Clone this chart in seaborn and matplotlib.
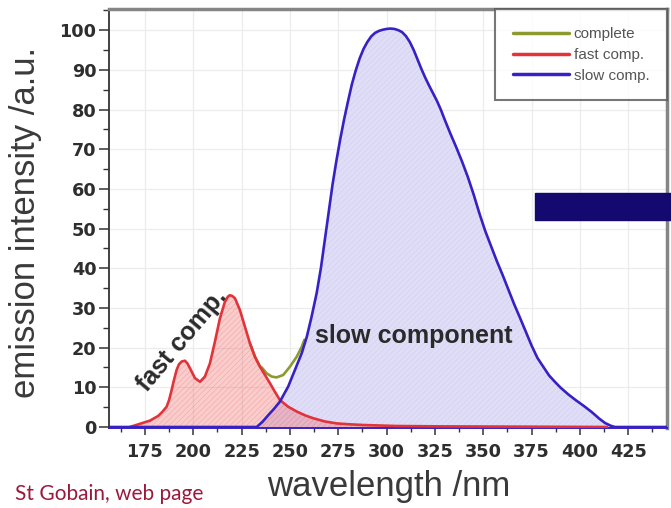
import numpy as np
import pandas as pd
import matplotlib
matplotlib.use("Agg")
import matplotlib.pyplot as plt
from matplotlib.patches import Rectangle
from matplotlib.ticker import MultipleLocator
import seaborn as sns

# --- data (wavelength in nm, intensity in a.u.) ---
fast_wl = [167.2, 172.4, 177.6, 181.9, 184.0, 186.2, 187.5, 188.8, 190.0, 191.4,
           192.6, 194.0, 195.7, 197.0, 198.3, 200.9, 203.5, 206.0, 208.6, 211.2,
           213.8, 216.4, 218.0, 219.0, 220.2, 221.6, 224.1, 226.7, 229.3, 231.9,
           234.5, 237.1, 239.7, 242.3, 244.8, 249.1, 253.5, 258.0, 262.1, 268.0,
           274.2, 280.0, 287.9, 305.2, 330.0, 360.0, 414.0]
fast_val = [0.0, 0.8, 1.6, 2.8, 3.8, 5.1, 6.8, 9.3, 11.8, 14.4,
            15.8, 16.5, 16.7, 16.0, 14.8, 12.3, 11.4, 12.7, 16.0, 21.5,
            27.4, 31.6, 32.9, 33.2, 33.0, 32.4, 29.5, 25.3, 21.1, 17.7,
            15.2, 13.1, 11.0, 8.8, 6.8, 5.1, 3.9, 2.9, 2.2, 1.4,
            0.9, 0.7, 0.5, 0.25, 0.15, 0.1, 0.0]

slow_wl = [156.0, 200.0, 232.8, 235.8, 238.8, 241.8, 244.8, 249.1, 252.6, 256.1,
           258.7, 261.2, 263.8, 266.0, 268.0, 270.0, 272.0, 274.0, 276.0, 278.0,
           280.0, 282.0, 284.0, 286.0, 288.0, 290.0, 292.0, 294.0, 296.0, 298.0,
           300.0, 302.0, 304.0, 306.0, 308.0, 310.0, 312.0, 314.0, 316.0, 318.0,
           320.0, 322.0, 324.0, 326.0, 328.0, 330.0, 333.0, 336.0, 339.0, 342.0,
           345.0, 348.0, 351.0, 354.0, 357.0, 360.0, 363.0, 366.0, 369.0, 372.0,
           375.0, 378.0, 381.0, 384.0, 387.0, 390.0, 394.0, 398.0, 402.0, 406.0,
           410.0, 413.0, 416.0, 418.1, 445.0]
slow_val = [0.0, 0.0, 0.0, 1.3, 3.0, 4.6, 6.4, 10.2, 14.4, 18.6,
            22.7, 27.8, 33.7, 40.0, 47.0, 54.0, 61.0, 67.0, 72.5, 77.5,
            82.0, 86.3, 89.8, 92.8, 95.2, 97.0, 98.4, 99.3, 99.8, 100.1,
            100.3, 100.4, 100.3, 100.0, 99.5, 98.5, 97.0, 95.0, 92.6, 90.2,
            88.0, 86.0, 84.1, 82.2, 80.0, 77.5, 73.9, 70.5, 66.9, 63.0,
            58.6, 53.8, 49.4, 45.6, 41.8, 38.3, 34.6, 30.9, 27.5, 24.0,
            20.5, 17.4, 15.2, 13.0, 11.4, 9.9, 8.2, 6.7, 5.3, 3.8,
            2.1, 1.0, 0.3, 0.0, 0.0]

complete_wl = [229.3, 231.9, 234.5, 235.4, 238.0, 240.6, 243.1, 246.5, 250.0, 253.5,
               256.1, 257.5]
complete_val = [21.1, 17.7, 15.2, 15.0, 13.5, 12.7, 12.5, 13.1, 15.2, 17.7,
                20.2, 22.0]

series_names = ["complete", "fast comp.", "slow comp."]
series_colors = ["#8c9a2e", "#e2333a", "#3622c4"]
x_ticks = [175, 200, 225, 250, 275, 300, 325, 350, 375, 400, 425]
y_ticks = [0, 10, 20, 30, 40, 50, 60, 70, 80, 90, 100]

df = pd.concat([
    pd.DataFrame({"wavelength": complete_wl, "intensity": complete_val, "series": series_names[0]}),
    pd.DataFrame({"wavelength": fast_wl, "intensity": fast_val, "series": series_names[1]}),
    pd.DataFrame({"wavelength": slow_wl, "intensity": slow_val, "series": series_names[2]}),
], ignore_index=True)

sns.set_style("white")
plt.rcParams["font.family"] = ["Liberation Sans", "DejaVu Sans"]
plt.rcParams["hatch.linewidth"] = 0.4

fig = plt.figure(figsize=(6.71, 5.08), dpi=100)
ax = fig.add_axes([0.1624, 0.1575, 0.8316, 0.8238])

ax.grid(True, color="#ececec", lw=0.9)
ax.set_axisbelow(True)

# shaded areas under the two components
ax.fill_between(slow_wl, slow_val, color="#e0def7", edgecolor="#cfcdf0",
                hatch="//////", lw=0, zorder=1)
ax.fill_between(fast_wl, fast_val, facecolor=(0.95, 0.35, 0.35, 0.3),
                edgecolor=(0.92, 0.5, 0.5, 0.5), hatch="//////", lw=0, zorder=1.5)

sns.lineplot(data=df, x="wavelength", y="intensity", hue="series",
             hue_order=series_names, palette=series_colors, estimator=None,
             linewidth=1.9, solid_joinstyle="round", ax=ax, zorder=3)

ax.set_xlim(156.4, 445.0)
ax.set_ylim(-0.25, 105.2)
ax.set_xticks(x_ticks)
ax.set_yticks(y_ticks)
ax.xaxis.set_minor_locator(MultipleLocator(12.5))
ax.yaxis.set_minor_locator(MultipleLocator(5))
ax.tick_params(axis="x", which="major", direction="out", length=5, width=1.1,
               color="#333333", pad=6, bottom=True)
ax.tick_params(axis="x", which="minor", direction="out", length=3, width=1.0,
               color="#333333", bottom=True)
ax.tick_params(axis="y", which="major", direction="out", length=7, width=1.1,
               color="#333333", pad=2, left=True)
ax.tick_params(axis="y", which="minor", direction="out", length=4.5, width=1.0,
               color="#333333", left=True)
for lbl in ax.get_xticklabels() + ax.get_yticklabels():
    lbl.set_family("DejaVu Sans")
    lbl.set_fontweight("bold")
    lbl.set_fontsize(12.7)
    lbl.set_color("#2e2e2e")

ax.spines["left"].set_color("#333333")
ax.spines["left"].set_linewidth(1.3)
ax.spines["bottom"].set_color("#3622c4")
ax.spines["bottom"].set_linewidth(1.4)
for side in ["top", "right"]:
    ax.spines[side].set_color("#858585")
    ax.spines[side].set_linewidth(2.5)

ax.set_xlabel("wavelength /nm", fontsize=25, color="#3a3a3a")
ax.set_ylabel("emission intensity /a.u.", fontsize=25, color="#3a3a3a")
ax.xaxis.set_label_coords(0.502, -0.100)
ax.yaxis.set_label_coords(-0.120, 0.49)

# legend boxed into the top right corner
handles, labels = ax.get_legend_handles_labels()
leg = ax.legend(handles, labels, loc="upper right", bbox_to_anchor=(1.0, 1.0),
                borderaxespad=0, fontsize=11, frameon=True, fancybox=False,
                edgecolor="#555555", handlelength=3.7, handletextpad=0.3,
                labelspacing=0.45, borderpad=1.15)
leg.get_frame().set_linewidth(1.5)
for h in leg.get_lines():
    h.set_linewidth(2.5)
for t in leg.get_texts():
    t.set_color("#555555")

ax.text(263.0, 21.1, "slow component", fontsize=18, fontweight="bold",
        color="#2a2a2a", ha="left", va="baseline", zorder=4)
ax.text(194.0, 21.9, "fast comp.", fontsize=18, fontweight="bold",
        color="#2a2a2a", ha="center", va="center", rotation=50,
        rotation_mode="anchor", zorder=4)

fig.text(15 / 671, 1 - 500 / 508, "St Gobain, web page", fontsize=15,
         family="Lato", color="#9a1a3c", ha="left", va="baseline")

# dark slide bar overlapping the figure on the right
fig.add_artist(Rectangle((535 / 671, 1 - 220 / 508), 136 / 671, 27.5 / 508,
                         transform=fig.transFigure, color="#13096e", zorder=10))

fig.savefig("out.png", dpi=100)
